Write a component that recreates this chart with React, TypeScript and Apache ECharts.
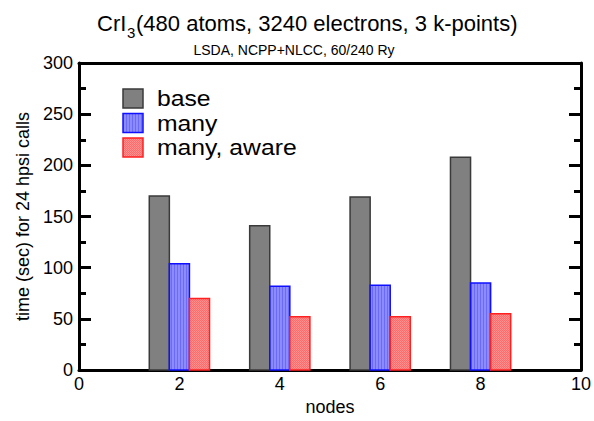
import React, { useEffect, useRef } from "react";
import * as echarts from "echarts";

const nodes = [2, 4, 6, 8];
const baseTimes = [170, 141, 169, 208];
const manyTimes = [104, 82, 83, 85];
const awareTimes = [70, 52, 52, 55];
const seriesNames = ["base", "many", "many, aware"];
const xTicks = [0, 2, 4, 6, 8, 10];
const yTicks = [0, 50, 100, 150, 200, 250, 300];

function makePattern(kind: string): any {
  try {
    const c = document.createElement("canvas");
    if (kind === "stripes") {
      c.width = 3; c.height = 2;
      const g = c.getContext("2d")!;
      g.fillStyle = "#8c8cff"; g.fillRect(0, 0, 3, 2);
      g.fillStyle = "#6a6aff"; g.fillRect(0, 0, 1, 2);
      return { image: c, repeat: "repeat" };
    }
    c.width = 2; c.height = 2;
    const g = c.getContext("2d")!;
    g.fillStyle = "#ff9090"; g.fillRect(0, 0, 2, 2);
    g.fillStyle = "#ff6a6a"; g.fillRect(0, 0, 1, 1); g.fillRect(1, 1, 1, 1);
    return { image: c, repeat: "repeat" };
  } catch (e) {
    return kind === "stripes" ? "#8080ff" : "#ff8080";
  }
}

export default function App() {
  const ref = useRef<HTMLDivElement>(null);
  useEffect(() => {
    const chart = echarts.init(ref.current!, null, { renderer: "svg" });
    const blueFill = makePattern("stripes");
    const redFill = makePattern("cross");
    const styles = [
      { fill: "#808080", stroke: "#3a3a3a" },
      { fill: blueFill, stroke: "#1010ff" },
      { fill: redFill, stroke: "#ff2020" },
    ];
    const offsets = [-0.4, 0, 0.4];
    const datasets = [baseTimes, manyTimes, awareTimes];
    const tickStyle = { show: true, inside: true, length: 12, lineStyle: { color: "#000", width: 3 } };
    const minorStyle = { show: true, splitNumber: 2, length: 7, lineStyle: { color: "#000", width: 3 } };
    const axisLine = { show: true, onZero: false, lineStyle: { color: "#000", width: 3 } };
    const series = datasets.map((vals, si) => ({
      type: "custom",
      name: seriesNames[si],
      data: nodes.map((n, i) => [n, vals[i]]),
      renderItem: (params: any, api: any) => {
        const x = api.value(0) + offsets[si];
        const y = api.value(1);
        const top = api.coord([x, y]);
        const bot = api.coord([x, 0]);
        const w = api.size([0.4, 0])[0];
        return {
          type: "rect",
          shape: { x: top[0] - w / 2, y: top[1], width: w, height: bot[1] - top[1] },
          style: { fill: styles[si].fill, stroke: styles[si].stroke, lineWidth: 1.5 },
        };
      },
    }));
    const legendItems: any[] = [];
    seriesNames.forEach((n, i) => {
      legendItems.push({
        type: "rect",
        shape: { x: 123, y: 89 + i * 24.5, width: 20, height: 19 },
        style: { fill: styles[i].fill, stroke: styles[i].stroke, lineWidth: 1.5 },
      });
      legendItems.push({
        type: "text",
        x: 157,
        y: 99 + i * 24.5,
        scaleX: 1.15,
        style: {
          text: n,
          fontSize: 21.5,
          fontFamily: "Liberation Sans",
          fill: "#000",
          textAlign: "left",
          textVerticalAlign: "middle",
        },
      });
    });
    const font = "Liberation Sans";
    chart.setOption({
      animation: false,
      textStyle: { fontFamily: font },
      grid: { left: 79, right: 12, top: 63, bottom: 44 },
      graphic: [
        {
          type: "text",
          x: 97,
          y: 23.5,
          style: { text: "CrI", fontSize: 22, fontFamily: font, fill: "#000", textAlign: "left", textVerticalAlign: "middle" },
        },
        {
          type: "text",
          x: 127,
          y: 32,
          style: { text: "3", fontSize: 15, fontFamily: font, fill: "#000", textAlign: "left", textVerticalAlign: "middle" },
        },
        {
          type: "text",
          x: 136,
          y: 23.5,
          style: {
            text: "(480 atoms, 3240 electrons, 3 k-points)",
            fontSize: 22,
            fontFamily: font,
            fill: "#000",
            textAlign: "left",
            textVerticalAlign: "middle",
          },
        },
        {
          type: "text",
          x: 294,
          y: 50,
          style: {
            text: "LSDA, NCPP+NLCC, 60/240 Ry",
            fontSize: 14,
            fontFamily: font,
            fill: "#000",
            textAlign: "center",
            textVerticalAlign: "middle",
          },
        },
        ...legendItems,
      ],
      xAxis: [
        {
          type: "value",
          min: 0,
          max: 10,
          interval: 2,
          name: "nodes",
          nameLocation: "middle",
          nameGap: 21,
          nameTextStyle: { fontSize: 18, color: "#000" },
          axisLine,
          axisTick: { show: false },
          splitLine: { show: false },
          axisLabel: {
            fontSize: 18,
            color: "#000",
            margin: 5,
            formatter: (v: number) => (xTicks.includes(v) ? String(v) : ""),
          },
        },
        {
          type: "value",
          position: "top",
          min: 0,
          max: 10,
          interval: 2,
          axisLine,
          axisTick: { show: false },
          splitLine: { show: false },
          axisLabel: { show: false },
        },
      ],
      yAxis: [
        {
          type: "value",
          min: 0,
          max: 300,
          interval: 50,
          name: "time (sec) for 24 hpsi calls",
          nameLocation: "middle",
          nameGap: 47,
          nameTextStyle: { fontSize: 18, color: "#000" },
          axisLine,
          axisTick: tickStyle,
          minorTick: minorStyle,
          splitLine: { show: false },
          axisLabel: {
            fontSize: 18,
            color: "#000",
            margin: 6,
            formatter: (v: number) => (yTicks.includes(v) ? String(v) : ""),
          },
        },
        {
          type: "value",
          position: "right",
          min: 0,
          max: 300,
          interval: 50,
          axisLine,
          axisTick: tickStyle,
          minorTick: minorStyle,
          splitLine: { show: false },
          axisLabel: { show: false },
        },
      ],
      series,
    });
    return () => chart.dispose();
  }, []);
  return <div ref={ref} style={{ width: 594, height: 421, position: "absolute", left: 0, top: 0 }} />;
}
